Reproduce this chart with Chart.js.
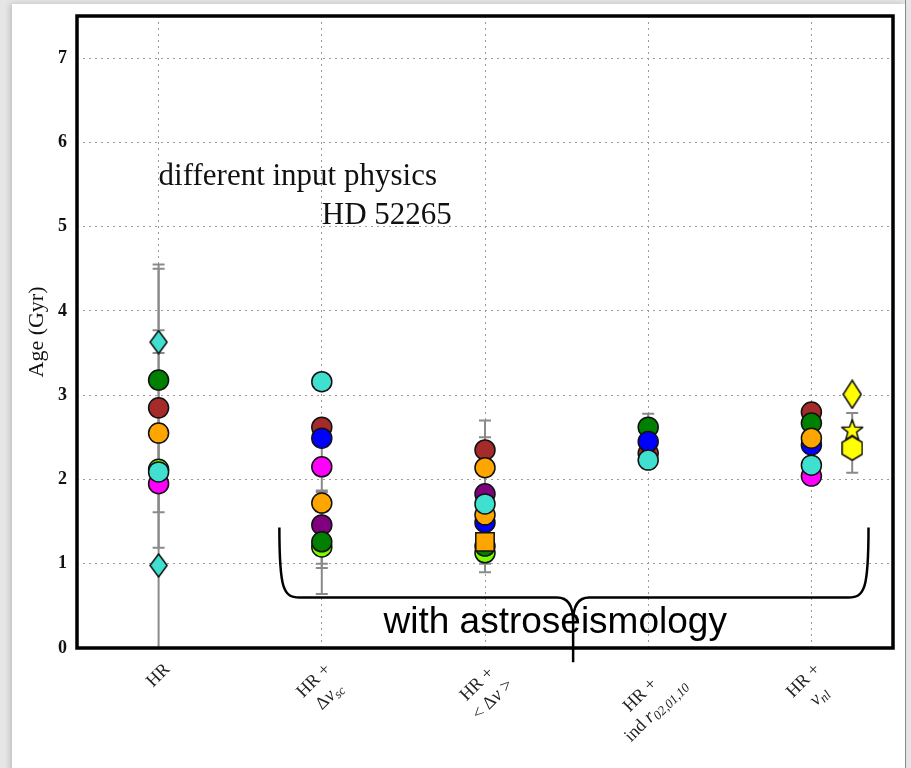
<!DOCTYPE html>
<html>
<head>
<meta charset="utf-8">
<title>HD 52265 ages</title>
<script src="https://cdn.jsdelivr.net/npm/chart.js@4.4.1/dist/chart.umd.min.js"></script>
<style>
  html, body { margin: 0; padding: 0; }
  body { width: 911px; height: 768px; background: #e6e6e6; position: relative; overflow: hidden; }
  #sheet { position: absolute; left: 12px; top: 4px; width: 893px; height: 800px; background: #fff; box-shadow: -2px 0 6px rgba(0,0,0,.18); }
  #edge { position: absolute; left: 905px; top: 0; width: 1px; height: 768px; background: #8c8c8c; }
  #ages { position: absolute; left: 0; top: 0; }
</style>
</head>
<body>
<div id="sheet"></div>
<div id="edge"></div>
<canvas id="ages" width="911" height="768"></canvas>
<script>
// ─── Data ────────────────────────────────────────────────────────
const CATEGORIES = ['HR', 'HR + Δν_sc', 'HR + <Δν>', 'HR + ind r02,01,10', 'HR + ν_nl'];
const Y_TICKS = [0, 1, 2, 3, 4, 5, 6, 7];

// age (Gyr) of each model, one entry per category, null = not fitted
const AGE_CYAN    = [2.09, 3.16, 1.71, 2.23, 2.17];
const AGE_ORANGE  = [2.55, 1.72, 2.14, null, 2.49];
const AGE_ORANGE2 = [null, null, 1.58, null, null];
const AGE_BLUE    = [null, 2.49, 1.49, 2.45, 2.41];
const AGE_GREEN   = [3.18, 1.26, 1.21, 2.62, 2.67];
const AGE_PURPLE  = [null, 1.46, 1.83, null, null];
const AGE_MAGENTA = [1.95, 2.15, null, null, 2.04];
const AGE_BROWN   = [2.85, 2.62, 2.35, 2.31, 2.80];
const AGE_LIME    = [2.12, 1.20, 1.13, null, null];
const AGE_SQUARE  = [null, null, 1.26, null, null];

// HR-only diamonds
const DIAMOND_X = [0, 0];
const DIAMOND_Y = [3.63, 0.98];

// yellow reference solutions beside the last column
const YELLOW_X = 4.25;
const YELLOW_DIAMOND = 3.01;
const YELLOW_STAR = 2.59;
const YELLOW_HEX = 2.37;

// error bars: x, lower, upper
const ERR_X  = [0,    0,    0,    0,    1,    1,    1,    2,    2,    3,    4,    4.25];
const ERR_LO = [0.00, 1.19, 3.50, 1.61, 0.64, 0.95, 1.00, 0.90, 1.00, 2.35, 2.10, 2.08];
const ERR_HI = [4.55, 4.50, 3.77, 2.80, 2.62, 1.85, 1.87, 2.70, 2.50, 2.78, 2.86, 2.79];

const NOTE_1 = 'different input physics';
const NOTE_2 = 'HD 52265';
const BRACE_TEXT = 'with astroseismology';
const BRACE_X = [0.74, 2.54, 4.35];   // left end, tip, right end
const BRACE_Y = [1.43, 0.60, -0.17];  // ends, bar, tip

// tick labels as runs: [text, style]  n = normal, i = italic, sub = subscript
const X_LABELS = [
  [[['HR', 'n']]],
  [[['HR +', 'n']], [['Δ', 'n'], ['ν', 'i'], ['sc', 'sub']]],
  [[['HR +', 'n']], [['< Δ', 'n'], ['ν', 'i'], [' >', 'n']]],
  [[['HR +', 'n']], [['ind ', 'n'], ['r', 'i'], ['02,01,10', 'sub']]],
  [[['HR +', 'n']], [['ν', 'i'], ['nl', 'sub']]]
];

// ─── Markers ─────────────────────────────────────────────────────
function marker(w, h, color, path) {
  const c = document.createElement('canvas');
  c.width = w; c.height = h;
  const g = c.getContext('2d');
  g.beginPath(); path(g, w, h); g.closePath();
  g.fillStyle = color; g.fill();
  g.lineWidth = 1.5; g.strokeStyle = '#111'; g.lineJoin = 'round'; g.stroke();
  return c;
}
const diamondPath = (g, w, h) => { g.moveTo(w / 2, 1); g.lineTo(w - 1, h / 2); g.lineTo(w / 2, h - 1); g.lineTo(1, h / 2); };
const starPath = (g, w, h) => {
  const R = w / 2 - 1, r = R * 0.42;
  for (let k = 0; k < 10; k++) {
    const a = -Math.PI / 2 + k * Math.PI / 5, rr = k % 2 ? r : R;
    g.lineTo(w / 2 + rr * Math.cos(a), h / 2 + rr * Math.sin(a) + 1);
  }
};
const hexPath = (g, w, h) => {
  for (let k = 0; k < 6; k++) {
    const a = -Math.PI / 2 + k * Math.PI / 3;
    g.lineTo(w / 2 + (w / 2 - 1) * Math.cos(a) / Math.cos(Math.PI / 6), h / 2 + (h / 2 - 1) * Math.sin(a));
  }
};

const CYAN_DIAMOND = marker(19, 25, '#40E0D0', diamondPath);
const YEL_DIAMOND = marker(20, 30, '#FFFF00', diamondPath);
const YEL_STAR = marker(24, 24, '#FFFF00', starPath);
const YEL_HEX = marker(22, 26, '#FFFF00', hexPath);

// ─── Datasets ────────────────────────────────────────────────────
function series(vals, color, style = 'circle', radius = 10) {
  return {
    data: vals.map((v, i) => v == null ? null : { x: i, y: v }).filter(Boolean),
    backgroundColor: color,
    borderColor: '#111',
    borderWidth: 1.5,
    pointStyle: style,
    pointRadius: radius,
    pointHoverRadius: radius
  };
}
function single(xs, ys, img) {
  return {
    data: ys.map((v, i) => ({ x: xs[i], y: v })),
    pointStyle: img, pointRadius: 12, pointHoverRadius: 12,
    backgroundColor: '#fff', borderColor: '#111'
  };
}

// first dataset ends up on top
const datasets = [
  single([YELLOW_X], [YELLOW_STAR], YEL_STAR),
  single([YELLOW_X], [YELLOW_HEX], YEL_HEX),
  single([YELLOW_X], [YELLOW_DIAMOND], YEL_DIAMOND),
  single(DIAMOND_X, DIAMOND_Y, CYAN_DIAMOND),
  series(AGE_CYAN, '#40E0D0'),
  series(AGE_SQUARE, '#FFA500', 'rect', 13),
  series(AGE_ORANGE2, '#FFA500'),
  series(AGE_ORANGE, '#FFA500'),
  series(AGE_BLUE, '#0000FF'),
  series(AGE_GREEN, '#008000'),
  series(AGE_PURPLE, '#800080'),
  series(AGE_MAGENTA, '#FF00FF'),
  series(AGE_BROWN, '#A52A2A'),
  series(AGE_LIME, '#7CFC00')
];

// ─── Plugins ─────────────────────────────────────────────────────
const errorBars = {
  id: 'errorBars',
  beforeDatasetsDraw(chart) {
    const { ctx, scales: { x, y } } = chart;
    ctx.save();
    ctx.strokeStyle = '#8a8a8a';
    ctx.lineWidth = 2;
    ERR_X.forEach((v, i) => {
      const px = x.getPixelForValue(v);
      const lo = y.getPixelForValue(ERR_LO[i]), hi = y.getPixelForValue(ERR_HI[i]);
      ctx.beginPath();
      ctx.moveTo(px, lo); ctx.lineTo(px, hi);
      ctx.moveTo(px - 6, lo); ctx.lineTo(px + 6, lo);
      ctx.moveTo(px - 6, hi); ctx.lineTo(px + 6, hi);
      ctx.stroke();
    });
    ctx.restore();
  }
};

function runFont(st) {
  if (st === 'sub') return 'italic 13px "Liberation Serif"';
  if (st === 'i') return 'italic 19px "Liberation Serif"';
  return '18px "Liberation Serif"';
}

function drawCategoryLabel(ctx, lines, cx, top) {
  const lh = 22;
  const widths = lines.map(runs => runs.reduce((w, [t, st]) => {
    ctx.font = runFont(st);
    return w + ctx.measureText(t).width;
  }, 0));
  const W = Math.max(...widths), H = lines.length * lh;
  const half = (W + H) / (2 * Math.SQRT2);
  ctx.save();
  ctx.translate(cx, top + half);
  ctx.rotate(-Math.PI / 4);
  ctx.textBaseline = 'middle';
  ctx.textAlign = 'left';
  lines.forEach((runs, i) => {
    let px = -widths[i] / 2;
    const py = -H / 2 + lh * (i + 0.5);
    runs.forEach(([t, st]) => {
      ctx.font = runFont(st);
      ctx.fillText(t, px, py + (st === 'sub' ? 5 : 0));
      px += ctx.measureText(t).width;
    });
  });
  ctx.restore();
}

const decorations = {
  id: 'decorations',
  afterDraw(chart) {
    const { ctx, chartArea: a, scales: { x, y } } = chart;
    ctx.save();

    // frame
    ctx.strokeStyle = '#000';
    ctx.lineWidth = 3.5;
    ctx.strokeRect(a.left, a.top, a.right - a.left, a.bottom - a.top);

    // notes
    ctx.fillStyle = '#111';
    ctx.font = '31px "Liberation Serif"';
    ctx.textAlign = 'left';
    ctx.textBaseline = 'alphabetic';
    ctx.fillText(NOTE_1, x.getPixelForValue(0), y.getPixelForValue(5.49));
    ctx.fillText(NOTE_2, x.getPixelForValue(1), y.getPixelForValue(5.03));

    // category labels
    ctx.fillStyle = '#222';
    X_LABELS.forEach((lines, i) => drawCategoryLabel(ctx, lines, x.getPixelForValue(i), a.bottom + 11));

    // brace
    const xl = x.getPixelForValue(BRACE_X[0]), xm = x.getPixelForValue(BRACE_X[1]), xr = x.getPixelForValue(BRACE_X[2]);
    const yt = y.getPixelForValue(BRACE_Y[0]), ym = y.getPixelForValue(BRACE_Y[1]), yb = y.getPixelForValue(BRACE_Y[2]);
    ctx.strokeStyle = '#000';
    ctx.lineWidth = 2.5;
    ctx.beginPath();
    ctx.moveTo(xl, yt);
    ctx.bezierCurveTo(xl, ym - 8, xl + 4, ym, xl + 20, ym);
    ctx.lineTo(xm - 16, ym);
    ctx.quadraticCurveTo(xm, ym, xm, ym + 24);
    ctx.lineTo(xm, yb);
    ctx.moveTo(xr, yt);
    ctx.bezierCurveTo(xr, ym - 8, xr - 4, ym, xr - 20, ym);
    ctx.lineTo(xm + 16, ym);
    ctx.quadraticCurveTo(xm, ym, xm, ym + 24);
    ctx.stroke();

    ctx.fillStyle = '#000';
    ctx.font = '37px "Liberation Sans"';
    ctx.textAlign = 'center';
    ctx.fillText(BRACE_TEXT, x.getPixelForValue(2.43), y.getPixelForValue(0.18));
    ctx.restore();
  }
};

// ─── Chart ───────────────────────────────────────────────────────
new Chart(document.getElementById('ages'), {
  type: 'scatter',
  data: { datasets },
  plugins: [errorBars, decorations],
  options: {
    responsive: false,
    animation: false,
    events: [],
    layout: { padding: { top: 16, right: 18, left: 0, bottom: 0 } },
    plugins: { legend: { display: false }, tooltip: { enabled: false } },
    scales: {
      x: {
        type: 'linear', min: -0.5, max: 4.5,
        afterBuildTicks: s => { s.ticks = CATEGORIES.map((_, i) => ({ value: i })); },
        afterFit: s => { s.height = 120; s.paddingLeft = 0; s.paddingRight = 0; },
        ticks: { display: false },
        grid: { color: '#9a9a9a', lineWidth: 1, drawTicks: false },
        border: { display: false, dash: [2, 4] }
      },
      y: {
        min: 0, max: 7.5,
        afterBuildTicks: s => { s.ticks = Y_TICKS.map(v => ({ value: v })); },
        afterFit: s => { s.width = 77; s.paddingTop = 0; s.paddingBottom = 0; },
        ticks: { color: '#111', padding: 10, font: { family: 'Liberation Serif', size: 18, weight: 'bold' } },
        grid: { color: '#9a9a9a', lineWidth: 1, drawTicks: false },
        border: { display: false, dash: [2, 4] },
        title: {
          display: true, text: 'Age (Gyr)', color: '#111',
          font: { family: 'Liberation Serif', size: 22 },
          padding: { top: 24, bottom: 0 }
        }
      }
    }
  }
});
</script>
</body>
</html>
